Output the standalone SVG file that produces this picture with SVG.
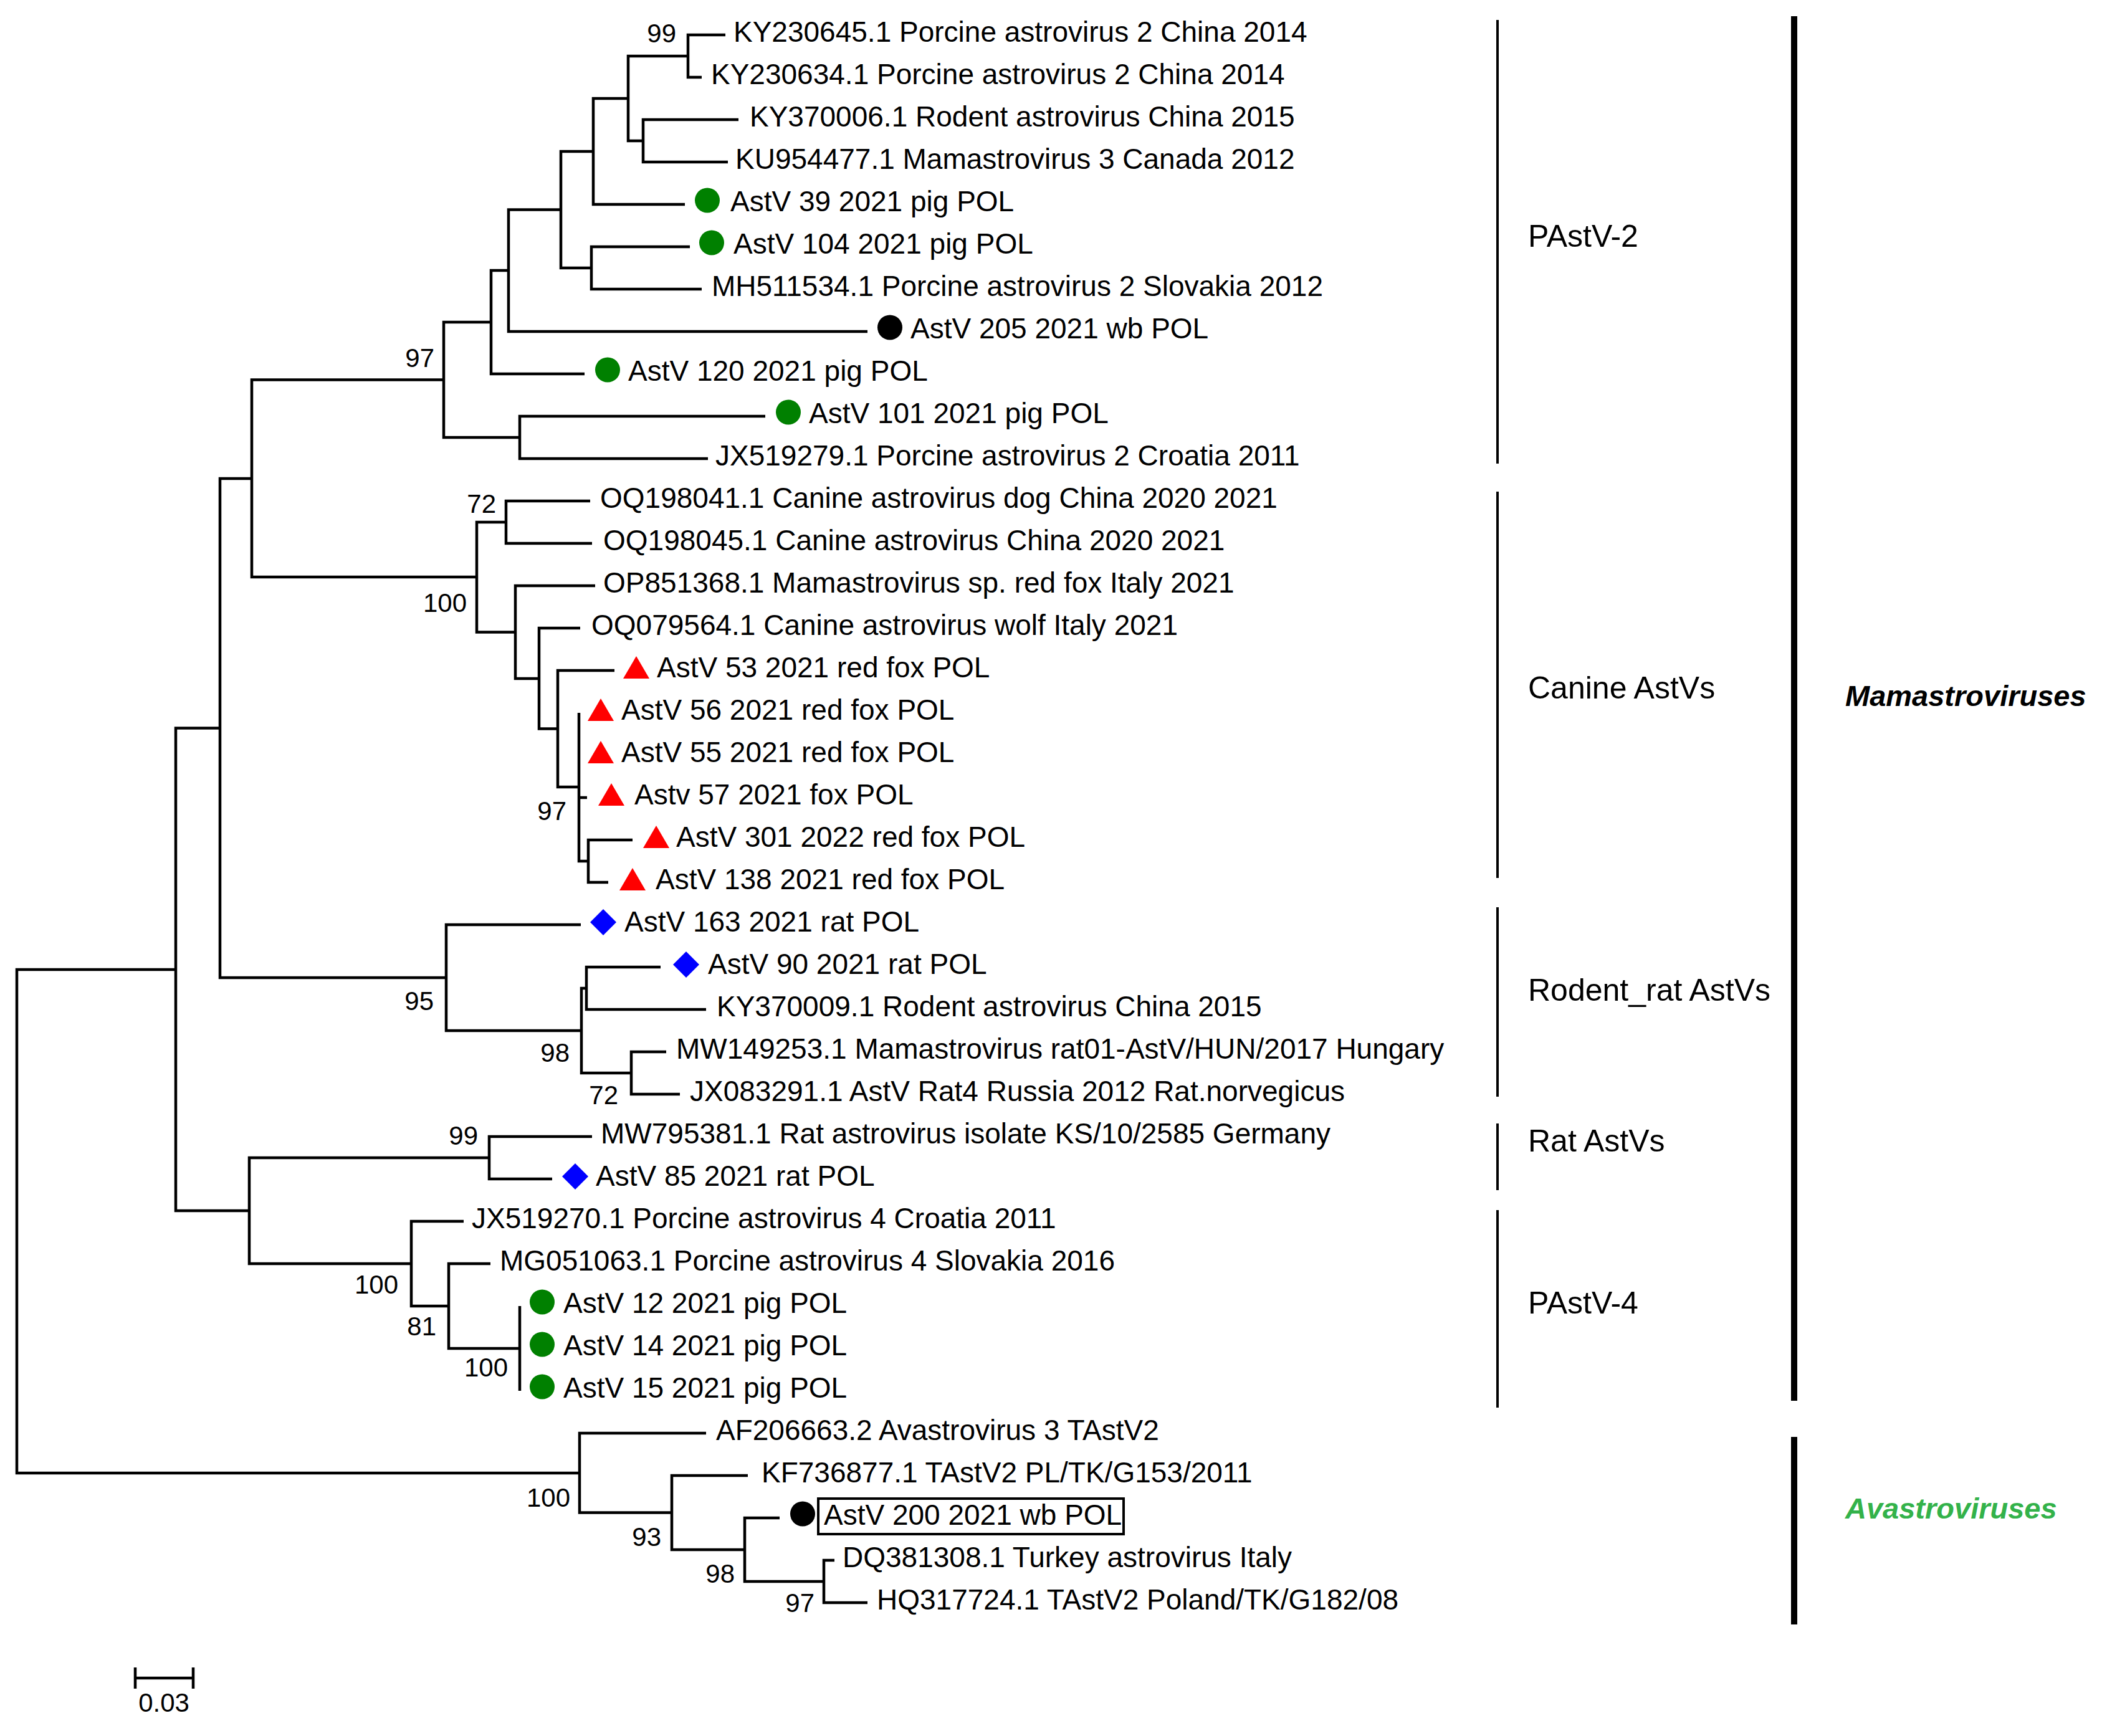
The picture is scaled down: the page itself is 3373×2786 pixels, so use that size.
<svg xmlns="http://www.w3.org/2000/svg" width="3373" height="2786" viewBox="0 0 3373 2786">
<style>
.br{fill:none;stroke:#000;stroke-width:4.5;stroke-linejoin:miter;stroke-linecap:butt}
.tip{font-family:"Liberation Sans",Arial,sans-serif;font-size:46px;fill:#000}
.bs{font-family:"Liberation Sans",Arial,sans-serif;font-size:42px;fill:#000;text-anchor:end}
.grp{font-family:"Liberation Sans",Arial,sans-serif;font-size:50px;fill:#000}
.big{font-family:"Liberation Sans",Arial,sans-serif;font-size:47px;font-weight:bold;font-style:italic}
.thin{stroke:#000;stroke-width:4}
.thick{stroke:#000;stroke-width:10}
.g{fill:#008000}.r{fill:#ff0000}.b{fill:#0000ff}.k{fill:#000}
</style>
<defs>
<circle id="mk-circle" cx="0" cy="0" r="20"/>
<path id="mk-tri" d="M0 -23 L21 13 L-21 13 Z"/>
<path id="mk-dia" d="M0 -21 L21 0 L0 21 L-21 0 Z"/>
</defs>
<rect width="3373" height="2786" fill="#fff"/>
<g id="connectors" class="br">
<path d="M282 1556 H27 V2364 H930"/>
<path d="M353 1168.5 H282 V1943 H400"/>
<path d="M404 768 H353 V1569 H716"/>
<path d="M712 609.5 H404 V926 H765"/>
<path d="M788 517 H712 V702 H834"/>
<path d="M816 434 H788 V600 H938"/>
<path d="M900 336.5 H816 V532 H1392"/>
<path d="M952 243 H900 V430 H949"/>
<path d="M1008 158 H952 V328 H1099"/>
<path d="M1104 90 H1008 V226 H1032"/>
<path d="M1164 56 H1104 V124 H1126"/>
<path d="M1185 192 H1032 V260 H1168"/>
<path d="M1107 396 H949 V464 H1126"/>
<path d="M1228 668 H834 V736 H1136"/>
<path d="M812 838 H765 V1014.5 H827"/>
<path d="M947 804 H812 V872 H950"/>
<path d="M955 940 H827 V1089 H865"/>
<path d="M931 1008 H865 V1169.5 H895"/>
<path d="M986 1076 H895 V1263 H929"/>
<path d="M929 1144 V1382 H944 M929 1280 H942"/>
<path d="M1015 1348 H944 V1416 H976"/>
<path d="M932 1484 H716 V1654 H933"/>
<path d="M941 1586 H933 V1722 H1013"/>
<path d="M1060 1552 H941 V1620 H1133"/>
<path d="M1069 1688 H1013 V1756 H1091"/>
<path d="M785 1858 H400 V2028 H660"/>
<path d="M950 1824 H785 V1892 H886"/>
<path d="M744 1960 H660 V2096 H720"/>
<path d="M787 2028 H720 V2164 H834"/>
<path d="M834 2096 V2232"/>
<path d="M1133 2300 H930 V2427.5 H1078"/>
<path d="M1200 2368 H1078 V2487 H1195"/>
<path d="M1251 2436 H1195 V2538 H1322"/>
<path d="M1339 2504 H1322 V2572 H1392"/>
</g>
<g id="tips" class="tip">
<g id="t1"><text x="1177" y="67">KY230645.1 Porcine astrovirus 2 China 2014</text></g>
<g id="t2"><text x="1141" y="135">KY230634.1 Porcine astrovirus 2 China 2014</text></g>
<g id="t3"><text x="1203" y="203">KY370006.1 Rodent astrovirus China 2015</text></g>
<g id="t4"><text x="1180" y="271">KU954477.1 Mamastrovirus 3 Canada 2012</text></g>
<g id="t5"><use href="#mk-circle" x="1135" y="321.5" class="g"/><text x="1172" y="339">AstV 39 2021 pig POL</text></g>
<g id="t6"><use href="#mk-circle" x="1142" y="389.5" class="g"/><text x="1177" y="407">AstV 104 2021 pig POL</text></g>
<g id="t7"><text x="1142" y="475">MH511534.1 Porcine astrovirus 2 Slovakia 2012</text></g>
<g id="t8"><use href="#mk-circle" x="1428" y="525.5" class="k"/><text x="1461" y="543">AstV 205 2021 wb POL</text></g>
<g id="t9"><use href="#mk-circle" x="975" y="593.5" class="g"/><text x="1008" y="611">AstV 120 2021 pig POL</text></g>
<g id="t10"><use href="#mk-circle" x="1265" y="661.5" class="g"/><text x="1298" y="679">AstV 101 2021 pig POL</text></g>
<g id="t11"><text x="1148" y="747">JX519279.1 Porcine astrovirus 2 Croatia 2011</text></g>
<g id="t12"><text x="963" y="815">OQ198041.1 Canine astrovirus dog China 2020 2021</text></g>
<g id="t13"><text x="968" y="883">OQ198045.1 Canine astrovirus China 2020 2021</text></g>
<g id="t14"><text x="968" y="951">OP851368.1 Mamastrovirus sp. red fox Italy 2021</text></g>
<g id="t15"><text x="949" y="1019">OQ079564.1 Canine astrovirus wolf Italy 2021</text></g>
<g id="t16"><use href="#mk-tri" x="1021" y="1076" class="r"/><text x="1054" y="1087">AstV 53 2021 red fox POL</text></g>
<g id="t17"><use href="#mk-tri" x="964" y="1144" class="r"/><text x="997" y="1155">AstV 56 2021 red fox POL</text></g>
<g id="t18"><use href="#mk-tri" x="964" y="1212" class="r"/><text x="997" y="1223">AstV 55 2021 red fox POL</text></g>
<g id="t19"><use href="#mk-tri" x="981" y="1280" class="r"/><text x="1018" y="1291">Astv 57 2021 fox POL</text></g>
<g id="t20"><use href="#mk-tri" x="1053" y="1348" class="r"/><text x="1085" y="1359">AstV 301 2022 red fox POL</text></g>
<g id="t21"><use href="#mk-tri" x="1015" y="1416" class="r"/><text x="1052" y="1427">AstV 138 2021 red fox POL</text></g>
<g id="t22"><use href="#mk-dia" x="968" y="1480" class="b"/><text x="1002" y="1495">AstV 163 2021 rat POL</text></g>
<g id="t23"><use href="#mk-dia" x="1101" y="1548" class="b"/><text x="1136" y="1563">AstV 90 2021 rat POL</text></g>
<g id="t24"><text x="1150" y="1631">KY370009.1 Rodent astrovirus China 2015</text></g>
<g id="t25"><text x="1085" y="1699">MW149253.1 Mamastrovirus rat01-AstV/HUN/2017 Hungary</text></g>
<g id="t26"><text x="1107" y="1767">JX083291.1 AstV Rat4 Russia 2012 Rat.norvegicus</text></g>
<g id="t27"><text x="964" y="1835">MW795381.1 Rat astrovirus isolate KS/10/2585 Germany</text></g>
<g id="t28"><use href="#mk-dia" x="923" y="1888" class="b"/><text x="956" y="1903">AstV 85 2021 rat POL</text></g>
<g id="t29"><text x="757" y="1971">JX519270.1 Porcine astrovirus 4 Croatia 2011</text></g>
<g id="t30"><text x="802" y="2039">MG051063.1 Porcine astrovirus 4 Slovakia 2016</text></g>
<g id="t31"><use href="#mk-circle" x="870" y="2089.5" class="g"/><text x="904" y="2107">AstV 12 2021 pig POL</text></g>
<g id="t32"><use href="#mk-circle" x="870" y="2157.5" class="g"/><text x="904" y="2175">AstV 14 2021 pig POL</text></g>
<g id="t33"><use href="#mk-circle" x="870" y="2225.5" class="g"/><text x="904" y="2243">AstV 15 2021 pig POL</text></g>
<g id="t34"><text x="1149" y="2311">AF206663.2 Avastrovirus 3 TAstV2</text></g>
<g id="t35"><text x="1222" y="2379">KF736877.1 TAstV2 PL/TK/G153/2011</text></g>
<g id="t36"><use href="#mk-circle" x="1288" y="2429.5" class="k"/><rect x="1313" y="2405" width="490" height="57" fill="none" stroke="#000" stroke-width="4"/><text x="1322" y="2447">AstV 200 2021 wb POL</text></g>
<g id="t37"><text x="1352" y="2515">DQ381308.1 Turkey astrovirus Italy</text></g>
<g id="t38"><text x="1407" y="2583">HQ317724.1 TAstV2 Poland/TK/G182/08</text></g>
</g>
<g id="bootstrap" class="bs">
<text x="1085" y="68">99</text>
<text x="697" y="589">97</text>
<text x="796" y="823">72</text>
<text x="749" y="982">100</text>
<text x="909" y="1316">97</text>
<text x="696" y="1621">95</text>
<text x="914" y="1704">98</text>
<text x="992" y="1772">72</text>
<text x="767" y="1837">99</text>
<text x="639" y="2076">100</text>
<text x="700" y="2143">81</text>
<text x="815" y="2209">100</text>
<text x="915" y="2418">100</text>
<text x="1061" y="2481">93</text>
<text x="1179" y="2540">98</text>
<text x="1307" y="2587">97</text>
</g>
<g id="clade-brackets">
<line class="thin" x1="2403" y1="32" x2="2403" y2="744"/>
<line class="thin" x1="2403" y1="789" x2="2403" y2="1409"/>
<line class="thin" x1="2403" y1="1456" x2="2403" y2="1760"/>
<line class="thin" x1="2403" y1="1803" x2="2403" y2="1910"/>
<line class="thin" x1="2403" y1="1942" x2="2403" y2="2259"/>
<line class="thick" x1="2879" y1="26" x2="2879" y2="2248"/>
<line class="thick" x1="2879" y1="2306" x2="2879" y2="2607"/>
</g>
<g id="clade-labels">
<text class="grp" x="2452" y="396">PAstV-2</text>
<text class="grp" x="2452" y="1121">Canine AstVs</text>
<text class="grp" x="2452" y="1606">Rodent_rat AstVs</text>
<text class="grp" x="2452" y="1848">Rat AstVs</text>
<text class="grp" x="2452" y="2108">PAstV-4</text>
<text class="big" x="2961" y="1133" fill="#000">Mamastroviruses</text>
<text class="big" x="2961" y="2437" fill="#33b24a">Avastroviruses</text>
</g>
<g id="scale-bar">
<path class="br" d="M217 2693 H310 M217 2676 V2710 M310 2676 V2710"/>
<text class="bs" x="263" y="2747" style="text-anchor:middle">0.03</text>
</g>
</svg>
